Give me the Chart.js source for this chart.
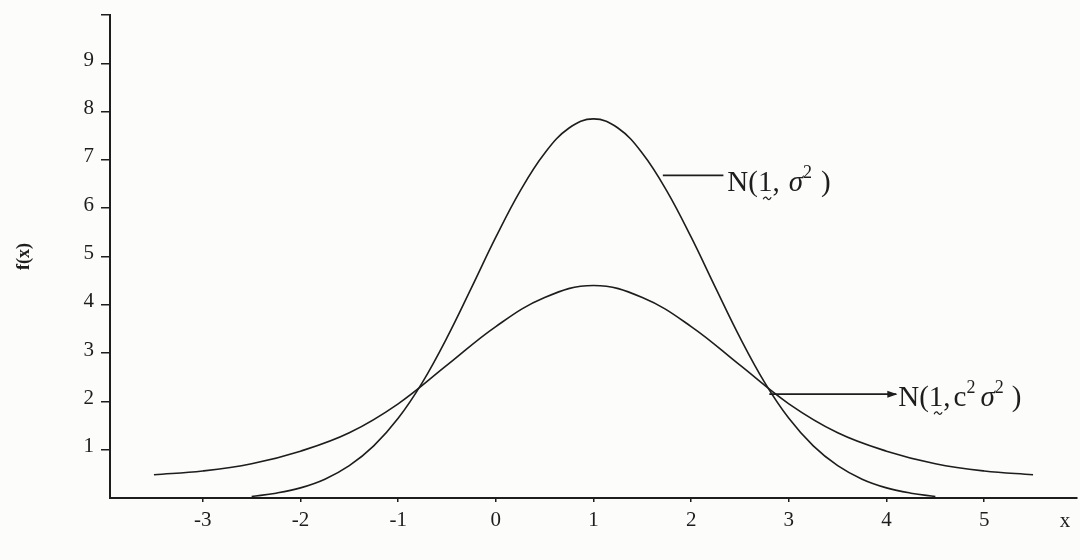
<!DOCTYPE html>
<html>
<head>
<meta charset="utf-8">
<title>N(1, σ²) and N(1, c²σ²)</title>
<script src="https://cdn.jsdelivr.net/npm/chart.js@4.4.1/dist/chart.umd.min.js"></script>
<style>
  html, body { margin: 0; padding: 0; background: #fcfcfb; }
  #box { position: relative; width: 1080px; height: 560px; }
  canvas { display: block; }
</style>
</head>
<body>
<div id="box"><canvas id="chart" width="1080" height="560"></canvas></div>
<script>
// ---- data ----
const xTicks = [-3, -2, -1, 0, 1, 2, 3, 4, 5];
const yTicks = [1, 2, 3, 4, 5, 6, 7, 8, 9];

// narrow curve  N(1, sigma^2)
const narrowX = [-2.5, -2.25, -2, -1.75, -1.5, -1.25, -1, -0.75, -0.5, -0.25, 0, 0.25, 0.5, 0.75, 1,
                 1.25, 1.5, 1.75, 2, 2.25, 2.5, 2.75, 3, 3.25, 3.5, 3.75, 4, 4.25, 4.5];
const narrowY = [0.03, 0.1, 0.21, 0.39, 0.67, 1.08, 1.65, 2.4, 3.32, 4.35, 5.4, 6.36, 7.14, 7.66, 7.85,
                 7.66, 7.14, 6.36, 5.4, 4.35, 3.32, 2.4, 1.65, 1.08, 0.67, 0.39, 0.21, 0.1, 0.03];

// wide curve  N(1, c^2 sigma^2)
const wideX = [-3.5, -3, -2.5, -2, -1.5, -1, -0.5, 0, 0.5, 1, 1.5, 2, 2.5, 3, 3.5, 4, 4.5, 5, 5.5];
const wideY = [0.48, 0.56, 0.71, 0.97, 1.35, 1.95, 2.75, 3.55, 4.15, 4.4, 4.15, 3.55, 2.75, 1.95, 1.35, 0.97, 0.71, 0.56, 0.48];

const yTitle = 'f(x)';
const xName = 'x';

// ---- styling ----
const INK = '#1d1d1d';
const SERIF = '"Liberation Serif", "Times New Roman", serif';

const toPoints = (xs, ys) => xs.map((x, i) => ({ x: x, y: ys[i] }));

// curve labels (anchored in data coordinates)
const notes = [
  { from: [1.71, 6.68], to: 2.33, textAt: 2.37, drop: 16, arrow: false,
    parts: [{ t: 'N(' }, { t: '1', tilde: true }, { t: ',' }, { gap: 9 },
            { t: 'σ', italic: true }, { t: '2', sup: true }, { gap: 9 }, { t: ')' }] },
  { from: [2.80, 2.15], to: 4.10, textAt: 4.12, drop: 12, arrow: true,
    parts: [{ t: 'N(' }, { t: '1', tilde: true }, { t: ',' }, { gap: 3 }, { t: 'c' },
            { t: '2', sup: true }, { gap: 5 }, { t: 'σ', italic: true }, { t: '2', sup: true },
            { gap: 8 }, { t: ')' }] }
];

function drawTilde(ctx, cx, cy) {
  ctx.save();
  ctx.lineWidth = 1.2;
  ctx.beginPath();
  ctx.moveTo(cx - 4, cy + 1);
  ctx.bezierCurveTo(cx - 2.5, cy - 2, cx - 1, cy - 1.5, cx, cy);
  ctx.bezierCurveTo(cx + 1, cy + 1.5, cx + 2.5, cy + 2, cx + 4, cy - 1);
  ctx.stroke();
  ctx.restore();
}

function drawParts(ctx, x0, base, parts) {
  let x = x0;
  ctx.textAlign = 'left';
  ctx.textBaseline = 'alphabetic';
  for (const p of parts) {
    if (p.gap) { x += p.gap; continue; }
    const size = p.sup ? 18 : 29;
    ctx.font = (p.italic ? 'italic ' : '') + size + 'px ' + SERIF;
    ctx.fillText(p.t, x, p.sup ? base - 13 : base);
    const w = ctx.measureText(p.t).width;
    if (p.tilde) drawTilde(ctx, x + w / 2 + 2, base + 7);
    x += w;
  }
}

const annotate = {
  id: 'annotate',
  afterDatasetsDraw(chart) {
    const { ctx, scales, chartArea } = chart;
    const sx = scales.x, sy = scales.y;
    ctx.save();
    ctx.strokeStyle = INK;
    ctx.fillStyle = INK;
    for (const n of notes) {
      const x1 = sx.getPixelForValue(n.from[0]);
      const yl = sy.getPixelForValue(n.from[1]);
      const x2 = sx.getPixelForValue(n.to);
      ctx.lineWidth = 1.6;
      ctx.beginPath();
      ctx.moveTo(x1, yl);
      ctx.lineTo(x2, yl);
      ctx.stroke();
      if (n.arrow) {
        ctx.beginPath();
        ctx.moveTo(x2 + 1, yl);
        ctx.lineTo(x2 - 9, yl - 3.5);
        ctx.lineTo(x2 - 9, yl + 3.5);
        ctx.closePath();
        ctx.fill();
      }
      drawParts(ctx, sx.getPixelForValue(n.textAt), yl + n.drop, n.parts);
    }
    // axis name at the right end of the x axis
    ctx.font = '21px ' + SERIF;
    ctx.textAlign = 'center';
    ctx.textBaseline = 'alphabetic';
    ctx.fillText(xName, chartArea.right - 12, chartArea.bottom + 29);
    ctx.restore();
  }
};

new Chart(document.getElementById('chart'), {
  type: 'scatter',
  data: {
    datasets: [
      { label: 'N(1, σ²)', data: toPoints(narrowX, narrowY) },
      { label: 'N(1, c²σ²)', data: toPoints(wideX, wideY) }
    ]
  },
  options: {
    responsive: false,
    animation: false,
    showLine: true,
    layout: { padding: { top: 15, right: 3, bottom: 0, left: 0 } },
    elements: {
      point: { radius: 0, hoverRadius: 0 },
      line: { borderColor: INK, borderWidth: 1.6, tension: 0.4, cubicInterpolationMode: 'default', fill: false }
    },
    plugins: { legend: { display: false }, tooltip: { enabled: false } },
    scales: {
      x: {
        type: 'linear', min: -3.95, max: 5.95,
        afterBuildTicks: s => { s.ticks = xTicks.map(v => ({ value: v })); },
        afterFit: s => { s.height = 62; s.paddingLeft = 0; s.paddingRight = 0; },
        grid: { drawOnChartArea: false, drawTicks: true, tickLength: 4, color: INK, lineWidth: 1.5 },
        border: { display: true, color: INK, width: 2 },
        ticks: { autoSkip: false, maxRotation: 0, padding: 6, color: INK,
                 font: { family: SERIF, size: 21 }, callback: v => String(v) }
      },
      y: {
        type: 'linear', min: 0, max: 10,
        afterBuildTicks: s => { s.ticks = yTicks.concat([10]).map(v => ({ value: v })); },
        afterFit: s => { s.width = 110; s.paddingTop = 0; s.paddingBottom = 0; },
        grid: { drawOnChartArea: false, drawTicks: true, tickLength: 9, color: INK, lineWidth: 1.5 },
        border: { display: true, color: INK, width: 2 },
        title: { display: true, text: yTitle, color: INK,
                 font: { family: SERIF, size: 18, weight: 'bold' }, padding: { top: 14, bottom: 0 } },
        ticks: { autoSkip: false, padding: 7, labelOffset: -3, color: INK,
                 font: { family: SERIF, size: 21 },
                 callback: v => (yTicks.includes(v) ? String(v) : '') }
      }
    }
  },
  plugins: [annotate]
});
</script>
</body>
</html>
